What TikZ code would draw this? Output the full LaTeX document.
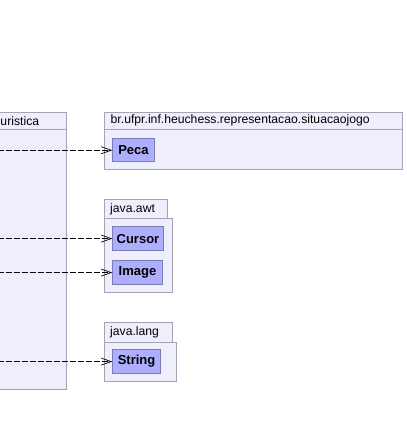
\documentclass[tikz,border=0pt]{standalone}
\usepackage{fontspec}
\setmainfont{Liberation Sans}
\usetikzlibrary{arrows.meta}
\definecolor{pkgfill}{HTML}{EEEEFC}
\definecolor{pkgline}{HTML}{A4A4B4}
\definecolor{clsfill}{HTML}{AEAEFF}
\definecolor{clsline}{HTML}{7C7CB4}
\tikzset{
  pkgbox/.style={draw=pkgline, fill=pkgfill, line width=0.9pt, inner sep=0pt},
  pkgname/.style={anchor=west, inner sep=0pt, font=\fontsize{12.2}{13}\selectfont},
  clsbox/.style={draw=clsline, fill=clsfill, line width=0.9pt, inner sep=0pt,
    font=\fontsize{13}{15}\selectfont\bfseries},
  dep/.style={dashed, dash pattern=on 5.5pt off 2.5pt, line width=0.7pt,
    -{Straight Barb[length=10pt,width=7pt,line width=0.7pt]}}
}
\begin{document}
\begin{tikzpicture}[x=1pt,y=-1pt]
\useasboundingbox (0,0) rectangle (406,427);
\clip (0,0) rectangle (406,427);
% left package (cut off)
\node[pkgbox, minimum width=71pt, minimum height=17.6pt, anchor=north west] (ltab) at (-5,111.7) {};
\node[pkgbox, minimum width=71pt, minimum height=259.7pt, anchor=north west] (lbody) at (-5,129.3) {};
\node[pkgname] (lname) at (0.3,120.8) {uristica};
% package situacaojogo
\node[pkgbox, minimum width=298.3pt, minimum height=17.6pt, anchor=north west] (ptab) at (104,111.7) {};
\node[pkgbox, minimum width=298.3pt, minimum height=39.7pt, anchor=north west] (pbody) at (104,129.3) {};
\node[pkgname] (pname) at (110.5,120.8) {br.ufpr.inf.heuchess.representacao.situacaojogo};
% package java.awt
\node[pkgbox, minimum width=63pt, minimum height=19pt, anchor=north west] (atab) at (104.3,199.3) {};
\node[pkgbox, minimum width=67.4pt, minimum height=73.4pt, anchor=north west] (abody) at (104.3,218.3) {};
\node[pkgname] (aname) at (110,209) {java.awt};
% package java.lang
\node[pkgbox, minimum width=68pt, minimum height=19.4pt, anchor=north west] (jtab) at (104.3,322.3) {};
\node[pkgbox, minimum width=72pt, minimum height=39.3pt, anchor=north west] (jbody) at (104.3,341.7) {};
\node[pkgname] (jname) at (110,332.2) {java.lang};
% classes
\node[clsbox, minimum width=41.4pt, minimum height=23pt, anchor=north west] (peca) at (112.3,138.3) {Peca};
\node[clsbox, minimum width=50.4pt, minimum height=24.3pt, anchor=north west] (cursor) at (112.3,226) {Cursor};
\node[clsbox, minimum width=49.4pt, minimum height=24.3pt, anchor=north west] (image) at (112.3,260) {Image};
\node[clsbox, minimum width=47.7pt, minimum height=24.3pt, anchor=north west] (string) at (112.3,349) {String};
% free ends of dependencies
\coordinate (s1) at (-2,0 |- peca.west);
\coordinate (s2) at (-2,0 |- cursor.west);
\coordinate (s3) at (-2,0 |- image.west);
\coordinate (s4) at (-2,0 |- string.west);
\draw[dep] (s1) -- (peca.west);
\draw[dep] (s2) -- (cursor.west);
\draw[dep] (s3) -- (image.west);
\draw[dep] (s4) -- (string.west);
\end{tikzpicture}
\end{document}
